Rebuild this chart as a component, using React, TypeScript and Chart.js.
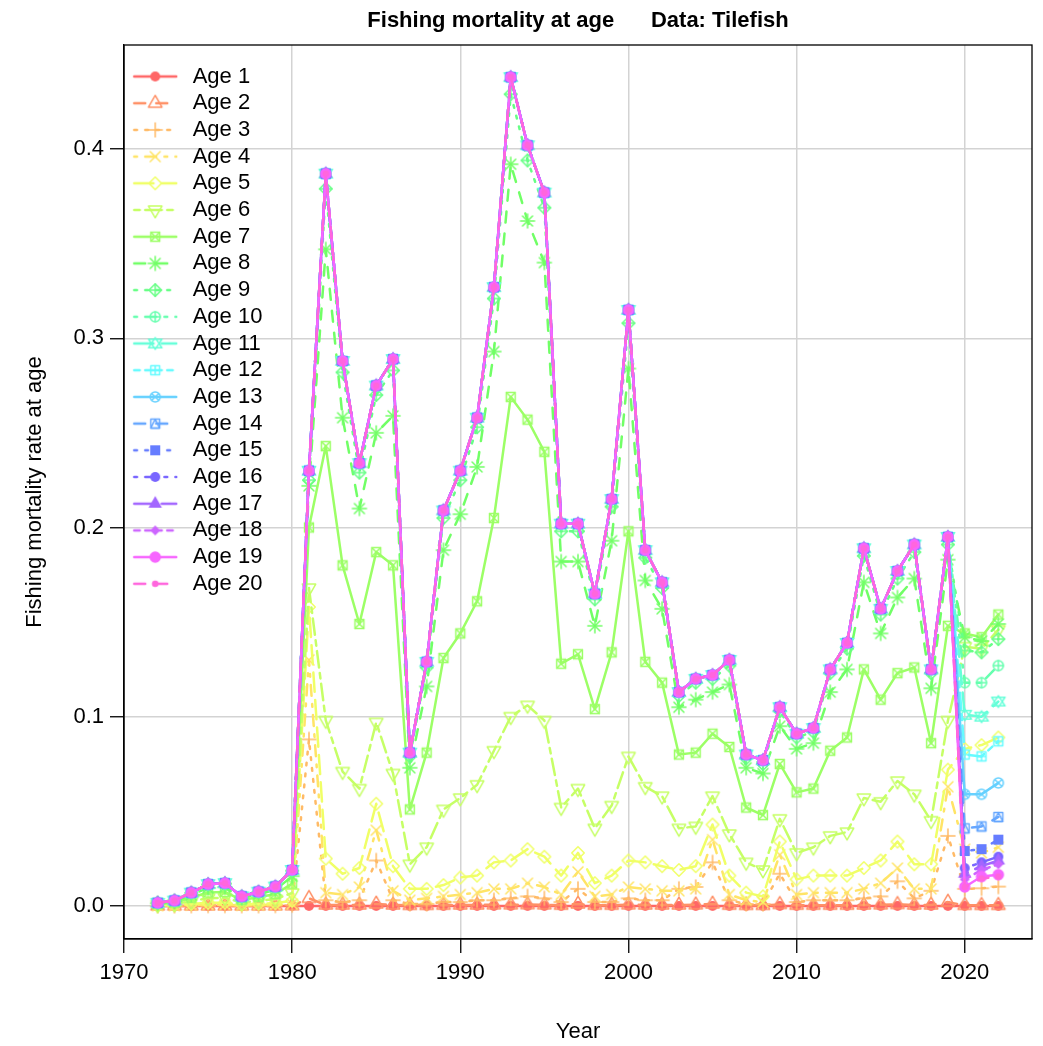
import React, { useEffect, useRef } from 'react';
import { Chart, registerables } from 'chart.js';

Chart.register(...registerables);

// ---------------- data ----------------
const years = [
  1972, 1973, 1974, 1975, 1976, 1977, 1978, 1979, 1980,
  1981, 1982, 1983, 1984, 1985, 1986, 1987, 1988, 1989, 1990,
  1991, 1992, 1993, 1994, 1995, 1996, 1997, 1998, 1999, 2000,
  2001, 2002, 2003, 2004, 2005, 2006, 2007, 2008, 2009, 2010,
  2011, 2012, 2013, 2014, 2015, 2016, 2017, 2018, 2019,
  2020, 2021, 2022,
];

// fully-selected F (ages 10-20 coincide) for 1972-2019
const fullF_1972_2019 = [
  0.0016, 0.0028, 0.0070, 0.0115, 0.0120, 0.0050, 0.0075, 0.0102, 0.0190,
  0.230, 0.387, 0.288, 0.234, 0.275, 0.289, 0.081, 0.129, 0.209, 0.230,
  0.258, 0.327, 0.438, 0.402, 0.377, 0.202, 0.202, 0.165, 0.215, 0.315,
  0.188, 0.171, 0.113, 0.120, 0.122, 0.130, 0.080, 0.077, 0.105, 0.091,
  0.094, 0.125, 0.139, 0.189, 0.157, 0.177, 0.191, 0.125, 0.195,
];

const fAge1 = [
  0, 0, 0, 0, 0, 0, 0, 0, 0,
  0, 0, 0, 0, 0, 0, 0, 0, 0, 0,
  0, 0, 0, 0, 0, 0, 0, 0, 0, 0,
  0, 0, 0, 0, 0, 0, 0, 0, 0, 0,
  0, 0, 0, 0, 0, 0, 0, 0, 0,
  0, 0, 0,
];
const fAge2 = [
  0.0000, 0.0000, 0.0000, 0.0000, 0.0000, 0.0000, 0.0000, 0.0000, 0.0001,
  0.004, 0.0005, 0.0005, 0.0005, 0.001, 0.0005, 0.0003, 0.0003, 0.0004, 0.0005,
  0.0005, 0.0006, 0.0006, 0.0007, 0.0006, 0.0004, 0.001, 0.0004, 0.0004, 0.0006,
  0.0005, 0.0005, 0.0005, 0.0006, 0.001, 0.0004, 0.0003, 0.0003, 0.0008, 0.0004,
  0.0004, 0.0004, 0.0004, 0.0005, 0.0006, 0.0008, 0.0005, 0.0005, 0.002,
  0.0003, 0.0003, 0.0003,
];
const fAge3 = [
  0.0000, 0.0000, 0.0001, 0.0002, 0.0002, 0.0001, 0.0001, 0.0002, 0.0004,
  0.088, 0.003, 0.002, 0.003, 0.024, 0.003, 0.001, 0.001, 0.002, 0.002,
  0.003, 0.003, 0.004, 0.005, 0.004, 0.002, 0.009, 0.002, 0.002, 0.004,
  0.003, 0.003, 0.009, 0.010, 0.023, 0.003, 0.001, 0.001, 0.017, 0.002,
  0.003, 0.003, 0.003, 0.004, 0.005, 0.013, 0.004, 0.008, 0.037,
  0.009, 0.0093, 0.0102,
];
const fAge4 = [
  0.0001, 0.0001, 0.0004, 0.0006, 0.0006, 0.0003, 0.0004, 0.0005, 0.0010,
  0.130, 0.007, 0.006, 0.010, 0.040, 0.008, 0.003, 0.004, 0.005, 0.006,
  0.007, 0.009, 0.009, 0.012, 0.010, 0.006, 0.018, 0.005, 0.006, 0.010,
  0.009, 0.008, 0.008, 0.009, 0.035, 0.006, 0.003, 0.002, 0.027, 0.006,
  0.007, 0.007, 0.007, 0.009, 0.012, 0.020, 0.009, 0.009, 0.063,
  0.030, 0.028, 0.031,
];
const fAge5 = [
  0.0002, 0.0004, 0.0010, 0.0016, 0.0017, 0.0007, 0.0011, 0.0014, 0.0027,
  0.158, 0.025, 0.017, 0.020, 0.054, 0.021, 0.009, 0.009, 0.011, 0.015,
  0.016, 0.023, 0.024, 0.030, 0.026, 0.016, 0.028, 0.012, 0.016, 0.024,
  0.023, 0.021, 0.019, 0.021, 0.043, 0.016, 0.007, 0.005, 0.034, 0.014,
  0.016, 0.016, 0.016, 0.020, 0.024, 0.034, 0.022, 0.022, 0.072,
  0.083, 0.085, 0.089,
];
const fAge6 = [
  0.0006, 0.0010, 0.0025, 0.0041, 0.0043, 0.0018, 0.0027, 0.0036, 0.0068,
  0.168, 0.098, 0.071, 0.062, 0.097, 0.070, 0.022, 0.031, 0.051, 0.057,
  0.064, 0.082, 0.100, 0.106, 0.098, 0.052, 0.062, 0.041, 0.053, 0.079,
  0.063, 0.058, 0.041, 0.042, 0.058, 0.038, 0.023, 0.019, 0.046, 0.028,
  0.031, 0.037, 0.039, 0.057, 0.055, 0.066, 0.059, 0.045, 0.098,
  0.137, 0.136, 0.146,
];
const fAge7 = [
  0.0010, 0.0017, 0.0043, 0.0071, 0.0074, 0.0031, 0.0046, 0.0063, 0.0118,
  0.200, 0.243, 0.180, 0.149, 0.187, 0.180, 0.051, 0.081, 0.131, 0.144,
  0.161, 0.205, 0.269, 0.257, 0.240, 0.128, 0.133, 0.104, 0.134, 0.198,
  0.129, 0.118, 0.080, 0.081, 0.091, 0.084, 0.052, 0.048, 0.075, 0.060,
  0.062, 0.082, 0.089, 0.125, 0.109, 0.123, 0.126, 0.086, 0.148,
  0.144, 0.142, 0.154,
];
const fAge8 = [
  0.0013, 0.0023, 0.0058, 0.0095, 0.0099, 0.0041, 0.0062, 0.0084, 0.0157,
  0.222, 0.347, 0.258, 0.210, 0.250, 0.259, 0.073, 0.116, 0.188, 0.207,
  0.232, 0.293, 0.392, 0.362, 0.340, 0.182, 0.182, 0.148, 0.193, 0.284,
  0.172, 0.157, 0.105, 0.109, 0.113, 0.117, 0.073, 0.070, 0.095, 0.083,
  0.086, 0.113, 0.125, 0.171, 0.144, 0.163, 0.173, 0.115, 0.183,
  0.142, 0.140, 0.149,
];
const fAge9 = [
  0.0016, 0.0027, 0.0069, 0.0113, 0.0118, 0.0049, 0.0074, 0.0100, 0.0186,
  0.225, 0.379, 0.282, 0.229, 0.270, 0.283, 0.079, 0.126, 0.205, 0.225,
  0.253, 0.321, 0.429, 0.394, 0.369, 0.198, 0.198, 0.162, 0.211, 0.308,
  0.184, 0.168, 0.111, 0.118, 0.120, 0.127, 0.078, 0.075, 0.103, 0.089,
  0.092, 0.123, 0.136, 0.185, 0.154, 0.173, 0.187, 0.123, 0.191,
  0.135, 0.134, 0.141,
];
const fAge10 = [...fullF_1972_2019, 0.118, 0.118, 0.127];
const fAge11 = [...fullF_1972_2019, 0.101, 0.100, 0.108];
const fAge12 = [...fullF_1972_2019, 0.080, 0.079, 0.087];
const fAge13 = [...fullF_1972_2019, 0.059, 0.059, 0.065];
const fAge14 = [...fullF_1972_2019, 0.041, 0.042, 0.047];
const fAge15 = [...fullF_1972_2019, 0.029, 0.030, 0.035];
const fAge16 = [...fullF_1972_2019, 0.020, 0.023, 0.026];
const fAge17 = [...fullF_1972_2019, 0.017, 0.021, 0.024];
const fAge18 = [...fullF_1972_2019, 0.014, 0.019, 0.022];
const fAge19 = [...fullF_1972_2019, 0.010, 0.0155, 0.0165];
const fAge20 = [...fullF_1972_2019, 0.010, 0.0145, 0.0155];

const seriesValues = [
  fAge1, fAge2, fAge3, fAge4, fAge5, fAge6, fAge7, fAge8, fAge9, fAge10,
  fAge11, fAge12, fAge13, fAge14, fAge15, fAge16, fAge17, fAge18, fAge19, fAge20,
];
const ageLabels = [
  'Age 1', 'Age 2', 'Age 3', 'Age 4', 'Age 5', 'Age 6', 'Age 7', 'Age 8', 'Age 9', 'Age 10',
  'Age 11', 'Age 12', 'Age 13', 'Age 14', 'Age 15', 'Age 16', 'Age 17', 'Age 18', 'Age 19', 'Age 20',
];
const xTickValues = [1970, 1980, 1990, 2000, 2010, 2020];
const yTickValues = [0, 0.1, 0.2, 0.3, 0.4];
const yTickLabels = ['0.0', '0.1', '0.2', '0.3', '0.4'];

const TITLE = 'Fishing mortality at age      Data: Tilefish';
const X_TITLE = 'Year';
const Y_TITLE = 'Fishing mortality rate at age';

// ---------------- styles ----------------
const COLORS = [
  '#FF6666', '#FF9066', '#FFBA66', '#FFE466', '#F0FF66', '#C6FF66', '#9CFF66', '#71FF66', '#66FF85', '#66FFAF',
  '#66FFD9', '#66FBFF', '#66D1FF', '#66A7FF', '#667DFF', '#7966FF', '#A366FF', '#CD66FF', '#F766FF', '#FF66DD',
];
const PCH = [16, 2, 3, 4, 5, 6, 7, 8, 9, 10, 11, 12, 13, 14, 15, 16, 17, 18, 19, 20];
const LTY = [1, 2, 3, 4, 5, 6, 1, 2, 3, 4, 5, 6, 1, 2, 3, 4, 5, 6, 1, 2];
const DASHES: Record<number, number[]> = {
  1: [],
  2: [11, 11],
  3: [2.75, 8.25],
  4: [2.75, 8.25, 11, 8.25],
  5: [19.25, 8.25],
  6: [5.5, 5.5, 16.5, 5.5],
};
const FONT = "'Liberation Sans', Arial, sans-serif";
const LINE_W = 2.5;
const MARK_R = 5;
const MARK_LW = 1.5;

function drawPch(ctx: CanvasRenderingContext2D, pch: number, color: string) {
  const R = MARK_R;
  const TRC0 = 1.5551, TRC1 = 1.3468, TRC2 = 0.7776, SQRC = 0.8862, DMDC = 1.2533;
  ctx.strokeStyle = color;
  ctx.fillStyle = color;
  ctx.lineWidth = MARK_LW;
  ctx.setLineDash([]);
  ctx.lineCap = 'round';
  ctx.lineJoin = 'round';
  const line = (x1: number, y1: number, x2: number, y2: number) => {
    ctx.beginPath(); ctx.moveTo(x1, y1); ctx.lineTo(x2, y2); ctx.stroke();
  };
  const poly = (pts: number[][], fill: boolean) => {
    ctx.beginPath();
    pts.forEach(([x, y], i) => (i ? ctx.lineTo(x, y) : ctx.moveTo(x, y)));
    ctx.closePath();
    if (fill) ctx.fill(); else ctx.stroke();
  };
  const circ = (r: number, fill: boolean) => {
    ctx.beginPath(); ctx.arc(0, 0, r, 0, Math.PI * 2);
    if (fill) ctx.fill(); else ctx.stroke();
  };
  const h = SQRC * R;
  const d = DMDC * R;
  switch (pch) {
    case 2: poly([[0, -TRC0 * R], [TRC1 * R, TRC2 * R], [-TRC1 * R, TRC2 * R]], false); break;
    case 6: poly([[0, TRC0 * R], [TRC1 * R, -TRC2 * R], [-TRC1 * R, -TRC2 * R]], false); break;
    case 17: poly([[0, -TRC0 * R], [TRC1 * R, TRC2 * R], [-TRC1 * R, TRC2 * R]], true); break;
    case 3: { const a = Math.SQRT2 * R; line(-a, 0, a, 0); line(0, -a, 0, a); break; }
    case 4: line(-R, -R, R, R); line(-R, R, R, -R); break;
    case 8: { line(-R, -R, R, R); line(-R, R, R, -R); const a = Math.SQRT2 * R; line(-a, 0, a, 0); line(0, -a, 0, a); break; }
    case 5: poly([[0, -d], [d, 0], [0, d], [-d, 0]], false); break;
    case 9: poly([[0, -d], [d, 0], [0, d], [-d, 0]], false); line(-d, 0, d, 0); line(0, -d, 0, d); break;
    case 18: poly([[0, -R], [R, 0], [0, R], [-R, 0]], true); break;
    case 7: ctx.strokeRect(-h, -h, 2 * h, 2 * h); line(-h, -h, h, h); line(-h, h, h, -h); break;
    case 12: ctx.strokeRect(-h, -h, 2 * h, 2 * h); line(-h, 0, h, 0); line(0, -h, 0, h); break;
    case 14: ctx.strokeRect(-h, -h, 2 * h, 2 * h); poly([[0, -h], [h, h], [-h, h]], false); break;
    case 15: ctx.fillRect(-R, -R, 2 * R, 2 * R); break;
    case 10: circ(R, false); line(-R, 0, R, 0); line(0, -R, 0, R); break;
    case 13: { circ(R, false); const q = R / Math.SQRT2; line(-q, -q, q, q); line(-q, q, q, -q); break; }
    case 11: {
      const r = TRC0 * R;
      const yc = 0.5 * (TRC2 * R + r);
      const xc = TRC1 * R;
      poly([[0, -r], [xc, yc], [-xc, yc]].map(([x, y]) => [x, y * 0.75]), false);
      poly([[0, r], [xc, -yc], [-xc, -yc]].map(([x, y]) => [x, y * 0.75]), false);
      break;
    }
    case 19: circ(R, true); circ(R, false); break;
    case 20: circ(R * 2 / 3, true); break;
    case 16:
    default: circ(R, true); break;
  }
}

function makeMarker(pch: number, color: string): HTMLCanvasElement {
  const c = document.createElement('canvas');
  c.width = 24; c.height = 24;
  const ctx = c.getContext('2d')!;
  ctx.translate(12, 12);
  drawPch(ctx, pch, color);
  return c;
}

function makeLegendIcon(pch: number, color: string, lty: number): HTMLCanvasElement {
  const c = document.createElement('canvas');
  c.width = 46; c.height = 24;
  const ctx = c.getContext('2d')!;
  ctx.strokeStyle = color;
  ctx.lineWidth = LINE_W;
  ctx.lineCap = 'round';
  ctx.setLineDash(DASHES[lty]);
  ctx.beginPath(); ctx.moveTo(2, 12); ctx.lineTo(44, 12); ctx.stroke();
  ctx.translate(23, 12);
  drawPch(ctx, pch, color);
  return c;
}

const boxPlugin = {
  id: 'rBox',
  beforeDatasetsDraw(chart: any) {
    const { ctx, chartArea: a } = chart;
    ctx.save();
    ctx.strokeStyle = '#000';
    ctx.lineWidth = 1.3;
    ctx.setLineDash([]);
    ctx.strokeRect(a.left, a.top, a.right - a.left, a.bottom - a.top);
    ctx.restore();
  },
};

export default function App() {
  const ref = useRef<HTMLCanvasElement | null>(null);

  useEffect(() => {
    if (!ref.current) return;
    const markers = PCH.map((p, i) => makeMarker(p, COLORS[i]));
    const legendIcons = PCH.map((p, i) => makeLegendIcon(p, COLORS[i], LTY[i]));

    const datasets = seriesValues.map((vals, i) => ({
      label: ageLabels[i],
      data: years.map((yr, j) => ({ x: yr, y: vals[j] })),
      borderColor: COLORS[i],
      backgroundColor: COLORS[i],
      borderWidth: LINE_W,
      borderDash: DASHES[LTY[i]],
      borderCapStyle: 'round',
      borderJoinStyle: 'round',
      pointStyle: markers[i],
      pointRadius: 5,
      pointHoverRadius: 5,
      tension: 0,
      fill: false,
      order: 20 - i,
    }));

    const gridCommon = {
      color: '#D3D3D3',
      lineWidth: 1.5,
      tickLength: 14,
      tickColor: '#000',
      tickWidth: 1.3,
      drawTicks: true,
      drawOnChartArea: true,
    };

    const chart = new Chart(ref.current, {
      type: 'line',
      data: { datasets: datasets as any },
      plugins: [boxPlugin],
      options: {
        responsive: false,
        animation: false,
        devicePixelRatio: 1,
        events: [],
        layout: { padding: { left: 0, right: 11, top: 0, bottom: 0 } },
        plugins: {
          title: {
            display: true,
            text: TITLE,
            fullSize: false,
            color: '#000',
            font: { family: FONT, size: 22, weight: 'bold', lineHeight: 1.2 },
            padding: { top: 7.3, bottom: 11.3 },
          },
          legend: {
            display: true,
            position: 'chartArea',
            align: 'start',
            title: { display: true, text: '', font: { size: 10, lineHeight: 1.2 }, padding: { top: 48.8, bottom: 0 } },
            labels: {
              usePointStyle: true,
              pointStyleWidth: 53,
              padding: 4.7,
              color: '#000',
              font: { family: FONT, size: 22, lineHeight: 1.2 },
              generateLabels: () =>
                ageLabels.map((t, i) => ({
                  text: t,
                  pointStyle: legendIcons[i],
                  fillStyle: 'rgba(0,0,0,0)',
                  strokeStyle: 'rgba(0,0,0,0)',
                  lineWidth: 0,
                  hidden: false,
                  datasetIndex: i,
                  fontColor: '#000',
                })),
            },
          },
          tooltip: { enabled: false },
        },
        scales: {
          x: {
            type: 'linear',
            min: 1970,
            max: 2024,
            afterBuildTicks: (s: any) => { s.ticks = xTickValues.map((v) => ({ value: v })); },
            afterFit: (s: any) => { s.height = 107; },
            grid: gridCommon,
            border: { display: true, color: '#000', width: 1.3 },
            ticks: {
              autoSkip: false,
              maxRotation: 0,
              padding: 7,
              color: '#000',
              font: { family: FONT, size: 22, lineHeight: 1.2 },
              callback: (v: any) => String(v),
            },
            title: {
              display: true,
              text: X_TITLE,
              color: '#000',
              font: { family: FONT, size: 22, lineHeight: 1.2 },
              padding: { top: 0, bottom: 0.5 },
            },
          },
          y: {
            type: 'linear',
            min: -0.0175,
            max: 0.455,
            afterBuildTicks: (s: any) => { s.ticks = yTickValues.map((v) => ({ value: v })); },
            afterFit: (s: any) => { s.width = 124; },
            grid: gridCommon,
            border: { display: true, color: '#000', width: 1.3 },
            ticks: {
              padding: 6,
              color: '#000',
              font: { family: FONT, size: 22, lineHeight: 1.2 },
              callback: (v: any) => {
                const k = yTickValues.findIndex((t) => Math.abs(t - Number(v)) < 1e-9);
                return k >= 0 ? yTickLabels[k] : '';
              },
            },
            title: {
              display: true,
              text: Y_TITLE,
              color: '#000',
              font: { family: FONT, size: 22, lineHeight: 1.2 },
              padding: { top: 22, bottom: 0 },
            },
          },
        },
      } as any,
    });
    return () => chart.destroy();
  }, []);

  return (
    <div style={{ position: 'absolute', left: 0, top: 0, width: 1043, height: 1046, background: '#fff' }}>
      <canvas ref={ref} width={1043} height={1046} style={{ display: 'block' }} />
    </div>
  );
}
